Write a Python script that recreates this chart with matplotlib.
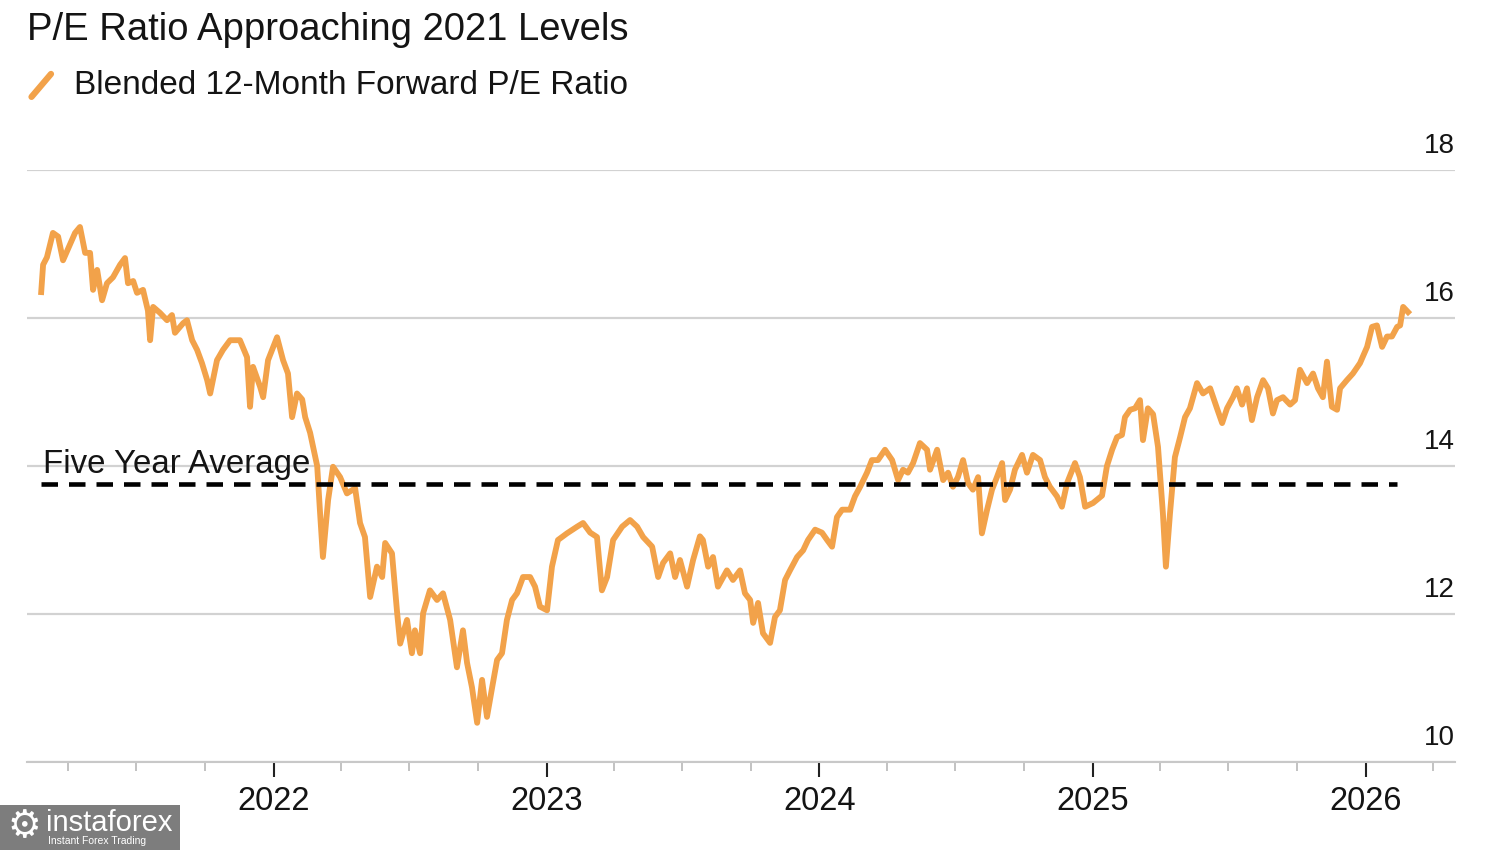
import numpy as np
import pandas as pd
import matplotlib
matplotlib.use("Agg")
import matplotlib.pyplot as plt
import matplotlib.dates as mdates
from matplotlib.lines import Line2D
from matplotlib.patches import Rectangle

plt.rcParams['font.family'] = ['Liberation Sans', 'DejaVu Sans']

# blended 12-month forward P/E (decimal year, value)
years = [
    2021.147, 2021.154, 2021.168, 2021.190, 2021.209, 2021.227, 2021.253, 2021.271, 2021.289, 2021.308,
    2021.326, 2021.337, 2021.352, 2021.370, 2021.388, 2021.410, 2021.436, 2021.454, 2021.465, 2021.484,
    2021.498, 2021.520, 2021.538, 2021.546, 2021.557, 2021.582, 2021.608, 2021.626, 2021.637, 2021.667,
    2021.681, 2021.700, 2021.718, 2021.736, 2021.755, 2021.766, 2021.791, 2021.813, 2021.839, 2021.875,
    2021.901, 2021.912, 2021.923, 2021.949, 2021.960, 2021.978,
    2022.011, 2022.033, 2022.051, 2022.066, 2022.084, 2022.103, 2022.114, 2022.132, 2022.158, 2022.168,
    2022.179, 2022.198, 2022.216, 2022.242, 2022.267, 2022.297, 2022.315, 2022.333, 2022.352, 2022.377,
    2022.396, 2022.407, 2022.432, 2022.451, 2022.462, 2022.487, 2022.505, 2022.516, 2022.535, 2022.546,
    2022.571, 2022.597, 2022.619, 2022.645, 2022.670, 2022.692, 2022.707, 2022.725, 2022.744, 2022.762,
    2022.780, 2022.799, 2022.817, 2022.835, 2022.853, 2022.872, 2022.890, 2022.912, 2022.938, 2022.956,
    2022.974,
    2023.000, 2023.018, 2023.040, 2023.073, 2023.110, 2023.132, 2023.158, 2023.183, 2023.201, 2023.220,
    2023.242, 2023.275, 2023.304, 2023.330, 2023.352, 2023.385, 2023.407, 2023.425, 2023.451, 2023.469,
    2023.487, 2023.513, 2023.535, 2023.560, 2023.571, 2023.590, 2023.608, 2023.626, 2023.659, 2023.681,
    2023.707, 2023.725, 2023.744, 2023.755, 2023.773, 2023.791, 2023.817, 2023.835, 2023.853, 2023.872,
    2023.890, 2023.916, 2023.938, 2023.956, 2023.982,
    2024.007, 2024.026, 2024.044, 2024.062, 2024.081, 2024.110, 2024.128, 2024.147, 2024.172, 2024.190,
    2024.212, 2024.238, 2024.264, 2024.286, 2024.304, 2024.322, 2024.341, 2024.366, 2024.392, 2024.403,
    2024.429, 2024.451, 2024.469, 2024.487, 2024.505, 2024.524, 2024.542, 2024.560, 2024.579, 2024.593,
    2024.612, 2024.630, 2024.648, 2024.667, 2024.678, 2024.696, 2024.714, 2024.740, 2024.758, 2024.780,
    2024.806, 2024.824, 2024.842, 2024.868, 2024.886, 2024.905, 2024.934, 2024.952, 2024.971,
    2025.000, 2025.033, 2025.051, 2025.070, 2025.088, 2025.106, 2025.117, 2025.136, 2025.154, 2025.172,
    2025.183, 2025.201, 2025.220, 2025.238, 2025.256, 2025.267, 2025.282, 2025.300, 2025.319, 2025.337,
    2025.355, 2025.381, 2025.403, 2025.429, 2025.454, 2025.473, 2025.491, 2025.513, 2025.527, 2025.546,
    2025.564, 2025.582, 2025.601, 2025.623, 2025.641, 2025.659, 2025.674, 2025.696, 2025.722, 2025.740,
    2025.758, 2025.784, 2025.806, 2025.824, 2025.842, 2025.857, 2025.875, 2025.894, 2025.905, 2025.930,
    2025.952, 2025.978,
    2026.004, 2026.022, 2026.040, 2026.059, 2026.077, 2026.095, 2026.114, 2026.125, 2026.136, 2026.154,
]
pe = [
    16.35, 16.72, 16.82, 17.15, 17.10, 16.78, 17.00, 17.15, 17.23, 16.88,
    16.88, 16.38, 16.65, 16.24, 16.47, 16.55, 16.72, 16.81, 16.47, 16.50,
    16.34, 16.38, 16.10, 15.70, 16.15, 16.07, 15.97, 16.04, 15.80, 15.93,
    15.97, 15.70, 15.57, 15.39, 15.16, 14.98, 15.43, 15.57, 15.70, 15.70,
    15.47, 14.80, 15.34, 15.07, 14.93, 15.43,
    15.74, 15.43, 15.25, 14.66, 14.98, 14.90, 14.66, 14.45, 14.00, 13.40,
    12.77, 13.54, 13.99, 13.85, 13.63, 13.70, 13.23, 13.04, 12.23, 12.64,
    12.50, 12.96, 12.82, 12.01, 11.60, 11.92, 11.47, 11.78, 11.47, 12.01,
    12.32, 12.19, 12.28, 11.92, 11.28, 11.78, 11.34, 11.01, 10.53, 11.11,
    10.61, 11.01, 11.38, 11.47, 11.92, 12.19, 12.28, 12.50, 12.50, 12.37,
    12.10,
    12.05, 12.64, 13.00, 13.09, 13.18, 13.23, 13.10, 13.04, 12.32, 12.50,
    13.00, 13.18, 13.27, 13.18, 13.04, 12.91, 12.50, 12.69, 12.82, 12.50,
    12.73, 12.37, 12.73, 13.05, 13.00, 12.64, 12.77, 12.37, 12.59, 12.46,
    12.59, 12.28, 12.19, 11.88, 12.15, 11.74, 11.61, 11.96, 12.05, 12.46,
    12.59, 12.77, 12.86, 13.00, 13.14,
    13.10, 13.00, 12.91, 13.31, 13.41, 13.41, 13.59, 13.72, 13.91, 14.08,
    14.08, 14.22, 14.08, 13.81, 13.95, 13.91, 14.04, 14.31, 14.22, 13.95,
    14.22, 13.81, 13.91, 13.72, 13.85, 14.08, 13.77, 13.68, 13.85, 13.09,
    13.41, 13.68, 13.85, 14.04, 13.54, 13.68, 13.95, 14.15, 13.91, 14.15,
    14.08, 13.85, 13.72, 13.59, 13.45, 13.77, 14.04, 13.85, 13.45,
    13.50, 13.60, 14.00, 14.22, 14.39, 14.42, 14.66, 14.76, 14.78, 14.89,
    14.35, 14.78, 14.70, 14.26, 13.36, 12.64, 13.36, 14.12, 14.39, 14.66,
    14.78, 15.12, 14.98, 15.05, 14.78, 14.58, 14.78, 14.93, 15.05, 14.83,
    15.05, 14.62, 14.93, 15.16, 15.05, 14.71, 14.89, 14.93, 14.83, 14.89,
    15.30, 15.12, 15.25, 15.05, 14.93, 15.41, 14.80, 14.76, 15.05, 15.16,
    15.25, 15.39,
    15.61, 15.88, 15.90, 15.61, 15.75, 15.75, 15.88, 15.90, 16.15, 16.08,
]
five_year_avg = 13.76
y_ticks = [10, 12, 14, 16, 18]

ORANGE = '#F2A24A'
TXT = '#141414'


def to_date(y):
    y = np.asarray(y)
    return pd.to_datetime('2021-01-01') + pd.to_timedelta((y - 2021) * 365.25, unit='D')


dates = to_date(years)

fig = plt.figure(figsize=(15, 8.5), dpi=100)
ax = fig.add_axes([0.018, 0.1035, 0.952, 0.6965])

ax.plot(dates, pe, color=ORANGE, lw=4.2, solid_joinstyle='round', zorder=3)
ax.hlines(five_year_avg, dates[0], to_date(2026.115), colors='black', lw=3.3,
          linestyles=(0, (3.6, 2.4)), zorder=4)
ax.annotate('Five Year Average', xy=(dates[0], five_year_avg), xytext=(1, 8),
            textcoords='offset points', ha='left', va='baseline', fontsize=23.8, color=TXT, zorder=5)

ax.set_ylim(10, 18)
ax.set_xlim(to_date(2021.095), to_date(2026.326))
ax.set_yticks(y_ticks)
ax.yaxis.grid(True, color='#d2d2d2', lw=1.6)
ax.tick_params(axis='y', length=0, labelleft=False, labelright=False)
for t in y_ticks:
    ax.annotate(str(t), xy=(1, t), xycoords=ax.get_yaxis_transform(), xytext=(0, 12),
                textcoords='offset points', ha='right', va='baseline', fontsize=20, color=TXT)

for s in ['top', 'left', 'right']:
    ax.spines[s].set_visible(False)
ax.spines['bottom'].set_color('#c8c8c8')
ax.spines['bottom'].set_linewidth(1.5)

ax.xaxis.set_major_locator(mdates.YearLocator())
ax.xaxis.set_major_formatter(mdates.DateFormatter('%Y'))
ax.xaxis.set_minor_locator(mdates.MonthLocator(bymonth=[1, 4, 7, 10]))
ax.tick_params(axis='x', which='major', length=11, width=1.5, color='#222222',
               labelsize=23.5, labelcolor=TXT, pad=6)
ax.tick_params(axis='x', which='minor', length=6.5, width=1.3, color='#bdbdbd')
ax.set_axisbelow(True)

# title and legend
fig.text(0.018, 0.965, 'P/E Ratio Approaching 2021 Levels', fontsize=27.5, color=TXT,
         ha='left', va='center')
fig.add_artist(Line2D([0.021, 0.034], [0.886, 0.913], color=ORANGE, lw=4.5,
                      solid_capstyle='round'))
fig.text(0.049, 0.899, 'Blended 12-Month Forward P/E Ratio', fontsize=24, color=TXT,
         ha='left', va='center')

# watermark
fig.add_artist(Rectangle((0, 0), 0.12, 0.053, transform=fig.transFigure,
                         facecolor='#7d7d7d', edgecolor='none'))
fig.text(0.016, 0.027, '\u2699', fontsize=27, color='white', ha='center', va='center',
         family=['DejaVu Sans'])
fig.text(0.031, 0.032, 'instaforex', fontsize=21, color='white', ha='left', va='center')
fig.text(0.032, 0.01, 'Instant Forex Trading', fontsize=7.5, color='white', ha='left',
         va='center')

fig.savefig('out.png', dpi=100, facecolor='white')
